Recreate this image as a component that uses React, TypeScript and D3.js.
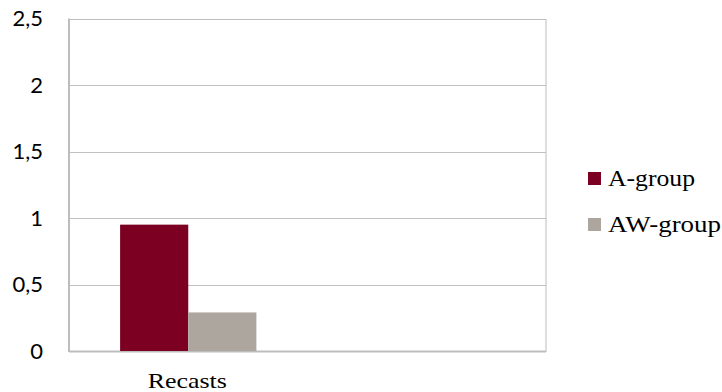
import React from "react";
import * as d3 from "d3";

const categories = ["Recasts", ""];
const seriesNames = ["A-group", "AW-group"];
const aGroup = [0.95, null];
const awGroup = [0.29, null];
const yTicks = [0, 0.5, 1, 1.5, 2, 2.5];
const colors = ["#7B0022", "#ADA69F"];

export default function App() {
  const W = 722, H = 392;
  const left = 69, right = 546, top = 18.5, bottom = 351;
  const y = d3.scaleLinear().domain([0, 2.5]).range([bottom, top]);
  const x0 = d3.scaleBand().domain(categories.map((c, i) => String(i))).range([left, right]).paddingInner(0).paddingOuter(0);
  const bw = x0.bandwidth();
  const barW = bw / 3.5;
  const series = [aGroup, awGroup];
  const fmt = (v: number) => String(v).replace(".", ",");
  const legendLen = [87, 113];
  return (
    <svg width={W} height={H} style={{ position: "absolute", left: 0, top: 0 }}>
      <rect x={0} y={0} width={W} height={H} fill="#fff" />
      {yTicks.map((t) => (
        <line key={t} x1={left} x2={right} y1={Math.round(y(t)) + 0.5} y2={Math.round(y(t)) + 0.5} stroke="#C0C0C0" strokeWidth={1} />
      ))}
      <rect x={left} y={Math.round(top) + 0.5} width={right - left} height={bottom - Math.round(top)} fill="none" stroke="#BDBDBD" strokeWidth={1} />
      <line x1={left} x2={left} y1={top} y2={bottom + 1} stroke="#BDBDBD" strokeWidth={2} />
      <line x1={left} x2={right} y1={bottom + 0.5} y2={bottom + 0.5} stroke="#BDBDBD" strokeWidth={2} />
      {series.map((s, si) =>
        s.map((v, ci) =>
          v == null ? null : (
            <rect
              key={si + "-" + ci}
              x={(x0(String(ci)) as number) + bw / 2 - barW + si * barW}
              y={y(v)}
              width={barW}
              height={bottom - y(v)}
              fill={colors[si]}
            />
          )
        )
      )}
      {yTicks.map((t) => (
        <text key={"l" + t} x={43} y={y(t)} dy="0.36em" textAnchor="end" fontFamily="Lato, 'Open Sans', sans-serif" fontSize={22} fill="#000">
          {fmt(t)}
        </text>
      ))}
      {categories.map((c, i) => (
        <text key={"c" + i} x={(x0(String(i)) as number) + bw / 2 - 1} y={388} textAnchor="middle" fontFamily="'Liberation Serif', serif" fontSize={22} fill="#000"
          {...(c ? { textLength: 79, lengthAdjust: "spacingAndGlyphs" } : {})}>
          {c}
        </text>
      ))}
      {seriesNames.map((n, i) => (
        <g key={n} transform={`translate(588, ${172 + i * 46})`}>
          <rect x={0} y={0} width={13} height={13} fill={colors[i]} />
          <text x={20} y={14} fontFamily="'Liberation Serif', serif" fontSize={23} fill="#000" textLength={legendLen[i]} lengthAdjust="spacingAndGlyphs">
            {n}
          </text>
        </g>
      ))}
    </svg>
  );
}
